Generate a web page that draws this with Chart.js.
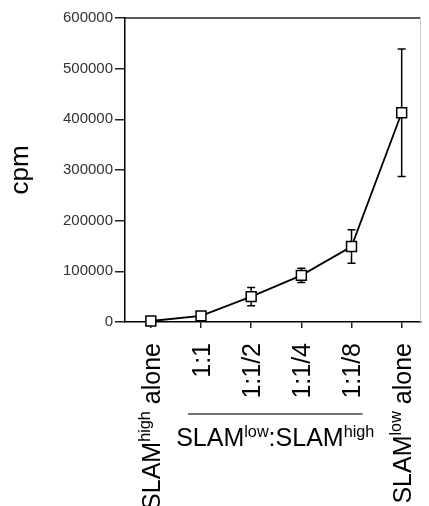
<!DOCTYPE html>
<html>
<head>
<meta charset="utf-8">
<script src="https://cdn.jsdelivr.net/npm/chart.js@4.4.1/dist/chart.umd.min.js"></script>
<style>
  html, body { margin: 0; padding: 0; background: #fff; }
  #wrap { width: 429px; height: 506px; }
</style>
</head>
<body>
<div id="wrap"><canvas id="chart"></canvas></div>
<script>
// ^...^ marks a superscript part of a label
const categories = ['SLAM^high^ alone', '1:1', '1:1/2', '1:1/4', '1:1/8', 'SLAM^low^ alone'];
const cpm = [2000, 12000, 50000, 92000, 149000, 413000];
const cpmErr = [2000, 3000, 18000, 14000, 33000, 126000];
const yTicks = [0, 100000, 200000, 300000, 400000, 500000, 600000];
const groupLabel = 'SLAM^low^:SLAM^high^';
const groupFrom = 1, groupTo = 4;

const font = '"Liberation Sans", Arial, sans-serif';

function parts(s) {
  return s.split('^').map(function(t, i) { return { t: t, sup: i % 2 === 1 }; });
}
function richWidth(ctx, s, size) {
  let w = 0;
  parts(s).forEach(function(p) {
    ctx.font = (p.sup ? size * 0.65 : size) + 'px ' + font;
    w += ctx.measureText(p.t).width;
  });
  return w;
}
function drawRich(ctx, s, x, y, size) {
  parts(s).forEach(function(p) {
    ctx.font = (p.sup ? size * 0.65 : size) + 'px ' + font;
    ctx.fillText(p.t, x, p.sup ? y - size * 0.38 : y);
    x += ctx.measureText(p.t).width;
  });
}

// top and right border of the plot box
const frame = {
  id: 'frame',
  beforeDatasetsDraw(chart) {
    const ctx = chart.ctx, a = chart.chartArea;
    ctx.save();
    ctx.lineWidth = 1.5;
    ctx.strokeStyle = '#222';
    ctx.beginPath(); ctx.moveTo(a.left, a.top); ctx.lineTo(a.right, a.top); ctx.stroke();
    ctx.lineWidth = 1;
    ctx.strokeStyle = '#ccc';
    ctx.beginPath(); ctx.moveTo(a.right, a.top); ctx.lineTo(a.right, a.bottom); ctx.stroke();
    ctx.restore();
  }
};

const errorBars = {
  id: 'errorBars',
  beforeDatasetsDraw(chart) {
    const ctx = chart.ctx, x = chart.scales.x, y = chart.scales.y;
    ctx.save();
    ctx.strokeStyle = '#000';
    ctx.lineWidth = 1.5;
    cpm.forEach(function(v, i) {
      const px = x.getPixelForValue(i);
      const top = y.getPixelForValue(v + cpmErr[i]);
      const bot = y.getPixelForValue(v - cpmErr[i]);
      ctx.beginPath();
      ctx.moveTo(px, top); ctx.lineTo(px, bot);
      ctx.moveTo(px - 4, top); ctx.lineTo(px + 4, top);
      ctx.moveTo(px - 4, bot); ctx.lineTo(px + 4, bot);
      ctx.stroke();
    });
    ctx.restore();
  }
};

// rotated category labels with superscripts + group bracket
const labels = {
  id: 'labels',
  afterDraw(chart) {
    const ctx = chart.ctx, x = chart.scales.x, a = chart.chartArea;
    const size = 25;
    ctx.save();
    ctx.fillStyle = '#000';
    ctx.textBaseline = 'alphabetic';
    ctx.textAlign = 'left';
    categories.forEach(function(c, i) {
      const px = x.getPixelForValue(i);
      const w = richWidth(ctx, c, size);
      ctx.save();
      ctx.translate(px, a.bottom + 21);
      ctx.rotate(-Math.PI / 2);
      drawRich(ctx, c, -w, size * 0.358, size);
      ctx.restore();
    });
    const x1 = x.getPixelForValue(groupFrom) - 13;
    const x2 = x.getPixelForValue(groupTo) + 11;
    ctx.strokeStyle = '#444';
    ctx.lineWidth = 1.5;
    ctx.beginPath(); ctx.moveTo(x1, 414); ctx.lineTo(x2, 414); ctx.stroke();
    const gw = richWidth(ctx, groupLabel, size);
    drawRich(ctx, groupLabel, (x1 + x2) / 2 - gw / 2, 446, size);
    ctx.restore();
  }
};

new Chart(document.getElementById('chart'), {
  type: 'line',
  data: {
    datasets: [{
      data: cpm.map(function(v, i) { return { x: i, y: v }; }),
      borderColor: '#000',
      borderWidth: 1.8,
      tension: 0,
      pointStyle: 'rect',
      pointRadius: 7,
      pointBackgroundColor: '#fff',
      pointBorderColor: '#000',
      pointBorderWidth: 1.5,
      clip: false
    }]
  },
  options: {
    responsive: true,
    maintainAspectRatio: false,
    animation: false,
    layout: { padding: { top: 18, right: 6, left: 0, bottom: 0 } },
    plugins: {
      legend: { display: false },
      tooltip: { enabled: false }
    },
    scales: {
      x: {
        type: 'linear',
        min: -0.515,
        max: 5.375,
        afterBuildTicks: function(s) { s.ticks = categories.map(function(c, i) { return { value: i }; }); },
        ticks: { display: false },
        grid: { drawOnChartArea: false, tickLength: 6, color: '#222', lineWidth: 1.5 },
        border: { color: '#000', width: 1.5 },
        afterFit: function(s) { s.height = 184; }
      },
      y: {
        min: 0,
        max: 600000,
        afterBuildTicks: function(s) { s.ticks = yTicks.map(function(v) { return { value: v }; }); },
        ticks: {
          font: { size: 15, family: font },
          color: '#333',
          padding: 2,
          callback: function(value) { return value; }
        },
        grid: { drawOnChartArea: false, tickLength: 10, color: '#222', lineWidth: 1.5 },
        border: { color: '#000', width: 1.5 },
        title: {
          display: true,
          text: 'cpm',
          font: { size: 26, family: font },
          color: '#000',
          padding: { top: 5, bottom: 0 }
        },
        afterFit: function(s) { s.width = 125; }
      }
    }
  },
  plugins: [frame, errorBars, labels]
});
</script>
</body>
</html>
